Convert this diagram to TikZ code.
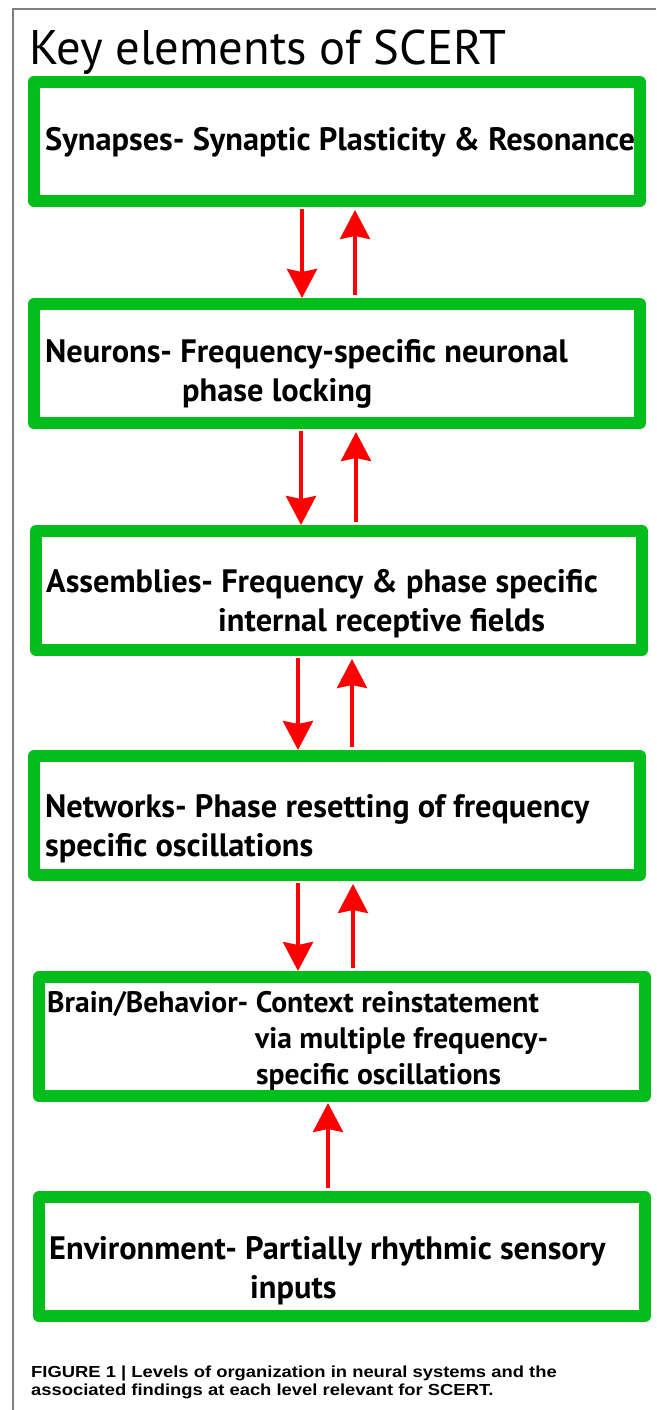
\documentclass[tikz,border=0pt]{standalone}
\usepackage{fontspec}
\setmainfont{PT Sans}
\newfontfamily\capfont[FakeStretch=1.15]{Liberation Sans}
\usetikzlibrary{arrows.meta,positioning}
\definecolor{boxgreen}{RGB}{2,189,28}
\tikzset{
    %Define standard arrow tip
    >={Stealth[length=29pt,width=30pt,inset=3pt]},
    %Define style for boxes
    levelbox/.style={
           rectangle,
           draw=boxgreen,
           line width=12pt,
           line join=round,
           minimum width=606pt,
           minimum height=119pt},
    % Define style for the texts in the boxes
    boxtext/.style={
           anchor=north west,
           inner sep=0pt,
           align=left,
           font=\bfseries\fontsize{32.4}{39.5}\selectfont},
    % Define arrow style
    pil/.style={
           ->,
           color=red,
           line width=4pt}
}
\begin{document}
\begin{tikzpicture}[x=1pt,y=-1pt]
\useasboundingbox (0,0) rectangle (656,1410);
\draw[gray,line width=1.5pt] (656,9) -| (13,1410);
\node[anchor=base west,inner sep=0pt,font=\fontsize{48.6}{60}\selectfont] (title) at (29,65) {Key elements of SCERT};
% boxes
\node[levelbox] (syn) at (337,141.5) {};
\node[levelbox, below=91pt of syn] (neu) {};
\node[levelbox, below=96pt of neu, xshift=2pt] (asm) {};
\node[levelbox, below=94pt of asm, xshift=-2pt] (net) {};
\node[levelbox, below=90pt of net, xshift=5pt] (brain) {};
\node[levelbox, below=89pt of brain] (env) {};
% texts
\node[boxtext] (syntxt) at (45,127) {Synapses- Synaptic Plasticity \& Resonance};
\node[boxtext] (neutxt) at (45,339) {Neurons- Frequency-specific neuronal\\\hspace*{137pt}phase locking};
\node[boxtext] (asmtxt) at (46,569) {Assemblies- Frequency \& phase specific\\\hspace*{172pt}internal receptive fields};
\node[boxtext] (nettxt) at (45,794) {Networks- Phase resetting of frequency\\specific oscillations};
\node[boxtext, font=\bfseries\fontsize{29.6}{36}\selectfont] (braintxt) at (47,991) {Brain/Behavior- Context reinstatement\\\hspace*{208pt}via multiple frequency-\\\hspace*{209pt}specific oscillations};
\node[boxtext] (envtxt) at (49,1236) {Environment- Partially rhythmic sensory\\\hspace*{201pt}inputs};
% arrows
\draw[pil,shorten <=2pt] ([xshift=-35pt]syn.south) -- ([xshift=-35pt]syn.south |- neu.north);
\draw[pil,shorten <=3pt,shorten >=3pt] ([xshift=18pt]syn.south |- neu.north) -- ([xshift=18pt]syn.south);
\draw[pil,shorten <=2pt] ([xshift=-36pt]neu.south) -- ([xshift=-36pt]neu.south |- asm.north);
\draw[pil,shorten <=3pt,shorten >=3pt] ([xshift=19pt]neu.south |- asm.north) -- ([xshift=19pt]neu.south);
\draw[pil,shorten <=2pt] ([xshift=-41pt]asm.south) -- ([xshift=-41pt]asm.south |- net.north);
\draw[pil,shorten <=3pt,shorten >=3pt] ([xshift=13pt]asm.south |- net.north) -- ([xshift=13pt]asm.south);
\draw[pil,shorten <=2pt] ([xshift=-39pt]net.south) -- ([xshift=-39pt]net.south |- brain.north);
\draw[pil,shorten <=3pt,shorten >=3pt] ([xshift=16pt]net.south |- brain.north) -- ([xshift=16pt]net.south);
\draw[pil,shorten <=3pt,shorten >=1pt] ([xshift=-14pt]env.north) -- ([xshift=-14pt]brain.south);
% caption
\node[anchor=north west,inner sep=0pt,align=left,font=\capfont\bfseries\fontsize{16}{18}\selectfont] (cap) at (31,1366)
    {FIGURE 1 | Levels of organization in neural systems and the\\associated findings at each level relevant for SCERT.};
\end{tikzpicture}
\end{document}
